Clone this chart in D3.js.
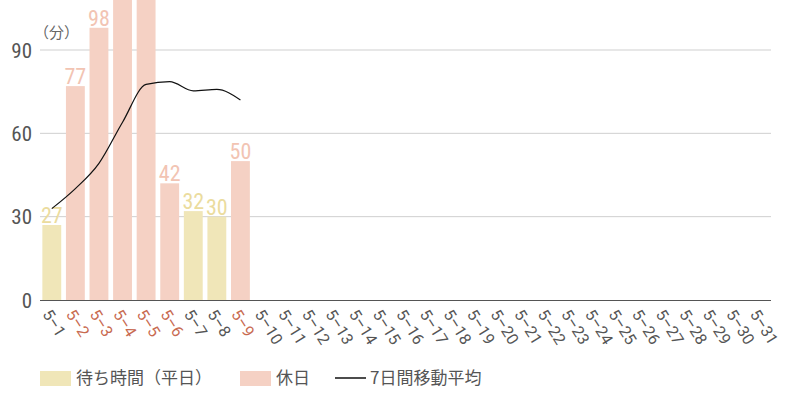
<!DOCTYPE html>
<html><head><meta charset="utf-8">
<script src="https://cdn.jsdelivr.net/npm/d3@7"></script>
<style>
body{margin:0;background:#fff;}
.num{font-family:"Roboto Condensed","Liberation Sans Narrow","Arial Narrow",Roboto,sans-serif;}
.tick{font-family:Roboto,"Noto Sans",sans-serif;}
.jp{font-family:"Noto Sans CJK JP","Noto Sans",sans-serif;}
</style></head><body>
<svg id="c" width="800" height="400"></svg>
<script>
const categories = d3.range(1,32).map(d => "5-" + d);
const values = [27, 77, 98, 128, 124, 42, 32, 30, 50];
const holiday = [false, true, true, true, true, true, false, false, true];
const movingAvg = [32.9, 40.1, 49.2, 64.0, 77.6, 78.6, 75.3, 75.8, 72.0];
const yTicks = [0, 30, 60, 90];
const legendLabels = ["待ち時間（平日）", "休日", "7日間移動平均"];

const colWeek = "#f0e6b8", colHol = "#f5d1c4";
const svg = d3.select("#c");
const x = d3.scaleBand().domain(categories).range([40, 771]).paddingInner(0.2).paddingOuter(0.1);
const y = d3.scaleLinear().domain([0, 108]).range([300, 0]);

// grid
svg.append("g").selectAll("line").data(yTicks.filter(d => d > 0)).join("line")
  .attr("x1", 40).attr("x2", 771).attr("y1", d => y(d)).attr("y2", d => y(d))
  .attr("stroke", "#cfcfcf").attr("stroke-width", 1);

// y labels
svg.append("g").selectAll("text").data(yTicks).join("text").attr("class","num")
  .attr("x", 32).attr("y", d => y(d)).attr("dy", "0.36em").attr("text-anchor", "end")
  .attr("font-size", 21).attr("fill", "#555").text(d => d);
svg.append("text").attr("class","jp").attr("x", 34).attr("y", 38).attr("font-size", 15)
  .attr("fill", "#666").text("（分）");

// bars
const bd = values.map((v,i) => ({c: categories[i], v, h: holiday[i]}));
svg.append("g").selectAll("rect").data(bd).join("rect")
  .attr("x", d => x(d.c)).attr("width", x.bandwidth())
  .attr("y", d => y(d.v)).attr("height", d => y(0) - y(d.v))
  .attr("fill", d => d.h ? colHol : colWeek);
svg.append("g").selectAll("text").data(bd).join("text").attr("class","num")
  .attr("x", d => x(d.c) + x.bandwidth()/2).attr("y", d => y(d.v) - 2)
  .attr("text-anchor", "middle").attr("font-size", 22)
  .attr("fill", d => d.h ? "#f2c4b3" : "#ebdc9e").text(d => d.v);

// axis line
svg.append("line").attr("x1", 40).attr("x2", 771).attr("y1", 300.5).attr("y2", 300.5)
  .attr("stroke", "#555").attr("stroke-width", 1.2);

// x labels
svg.append("g").selectAll("text").data(categories).join("text").attr("class","tick")
  .attr("transform", d => `translate(${x(d) + x.bandwidth()/2 - 5},${311}) rotate(58)`)
  .attr("font-size", 16).attr("dy", "0.35em")
  .attr("fill", (d,i) => (i < holiday.length && holiday[i]) ? "#c86a50" : "#555")
  .text(d => d.replace("-", "\u2013"));

// moving average line
const line = d3.line().x((d,i) => x(categories[i]) + x.bandwidth()/2).y(d => y(d)).curve(d3.curveMonotoneX);
svg.append("path").datum(movingAvg).attr("d", line).attr("fill", "none")
  .attr("stroke", "#111").attr("stroke-width", 1.2);

// legend
const lg = svg.append("g");
lg.append("rect").attr("x", 40).attr("y", 371).attr("width", 31).attr("height", 15).attr("fill", colWeek);
lg.append("text").attr("class","jp").attr("x", 76).attr("y", 378).attr("dy","0.36em").attr("font-size", 17).attr("fill","#555").text(legendLabels[0]);
lg.append("rect").attr("x", 240).attr("y", 371).attr("width", 31).attr("height", 15).attr("fill", colHol);
lg.append("text").attr("class","jp").attr("x", 276).attr("y", 378).attr("dy","0.36em").attr("font-size", 17).attr("fill","#555").text(legendLabels[1]);
lg.append("line").attr("x1", 335).attr("x2", 366).attr("y1", 378).attr("y2", 378).attr("stroke","#111").attr("stroke-width",1.5);
lg.append("text").attr("class","jp").attr("x", 370).attr("y", 378).attr("dy","0.36em").attr("font-size", 17).attr("fill","#555").text(legendLabels[2]);
</script></body></html>
